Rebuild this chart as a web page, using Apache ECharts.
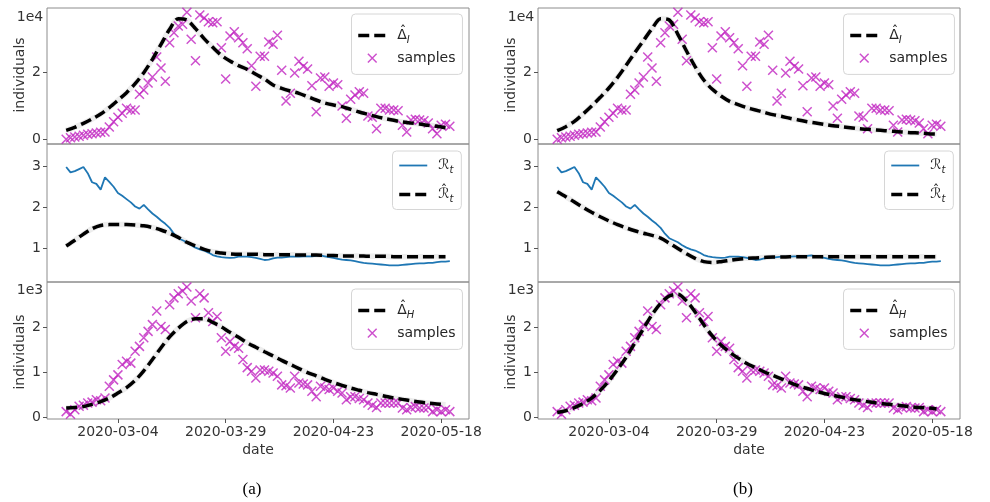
<!DOCTYPE html>
<html>
<head>
<meta charset="utf-8">
<script src="https://cdn.jsdelivr.net/npm/echarts@6/dist/echarts.min.js"></script>
<style>
  html, body { margin: 0; padding: 0; background: #fff; }
  #chart { width: 990px; height: 502px; }
</style>
</head>
<body>
<div id="chart"></div>
<script>
// days are counted from the first sample
const startDate = '2020-02-21'
const tickDates = ['2020-03-04', '2020-03-29', '2020-04-23', '2020-05-18']
const curveStep = 2

// daily samples (shared by both panels)
const samplesI = [0, 500, 700, 900, 1200, 1500, 1700, 1900, 2100, 2200,
  3700, 5300, 6600, 7800, 9300, 8800, 8800, 13500, 14800, 16900,
  18700, 24700, 21400, 17400, 29000, 32000, 34000, 34500, 38100, 30000,
  23600, 37300, 36400, 35300, 35000, 35300, 27500, 18100, 31000, 32300,
  30500, 29000, 27200, 22100, 15900, 24900, 24900, 29200, 28500, 31200,
  20700, 11500, 13800, 19900, 23400, 21900, 21100, 16100, 8300, 18400,
  18700, 15900, 16900, 16400, 10000, 6300, 12000, 13300, 14300, 13800,
  7000, 6600, 3200, 9300, 9300, 8800, 8800, 8600, 4200, 2200,
  5800, 6000, 5800, 5600, 4900, 3200, 1700, 4200, 4500, 3900]

const samplesH = [130, 70, 170, 250, 270, 320, 340, 390, 370, 430,
  690, 830, 940, 1170, 1240, 1200, 1460, 1570, 1760, 1900,
  2050, 2350, 2010, 1940, 2490, 2640, 2730, 2790, 2880, 2570,
  2200, 2730, 2640, 2310, 2120, 2230, 1760, 1460, 1680, 1570,
  1530, 1280, 1100, 1020, 870, 1050, 1050, 1020, 980, 910,
  720, 700, 650, 910, 760, 740, 720, 580, 460, 690,
  650, 620, 650, 580, 540, 390, 460, 460, 420, 390,
  320, 270, 220, 320, 320, 320, 320, 320, 210, 170,
  220, 240, 210, 210, 220, 130, 170, 130, 170, 130]

const rt = [2.98, 2.85, 2.88, 2.93, 2.98, 2.83, 2.61, 2.57, 2.43, 2.73,
  2.62, 2.50, 2.35, 2.28, 2.20, 2.12, 2.02, 1.97, 2.06, 1.95,
  1.85, 1.77, 1.68, 1.60, 1.50, 1.36, 1.25, 1.20, 1.15, 1.08,
  1.02, 0.98, 0.95, 0.90, 0.84, 0.81, 0.79, 0.78, 0.77, 0.78,
  0.80, 0.80, 0.80, 0.79, 0.77, 0.75, 0.72, 0.73, 0.76, 0.78,
  0.78, 0.79, 0.80, 0.80, 0.80, 0.81, 0.81, 0.81, 0.82, 0.83,
  0.81, 0.79, 0.77, 0.75, 0.73, 0.72, 0.71, 0.69, 0.67, 0.65,
  0.64, 0.63, 0.62, 0.61, 0.60, 0.59, 0.59, 0.59, 0.60, 0.61,
  0.62, 0.63, 0.64, 0.64, 0.65, 0.65, 0.67, 0.68, 0.68, 0.69]

// model curves, panel (a)
const modelIa = [2700, 3600, 4800, 6100, 7600, 9500, 11700, 14000, 16700, 20000,
  24000, 28500, 33000, 36200, 35800, 33200, 30200, 27600, 25200, 23500,
  22100, 21000, 19500, 18100, 16300, 15300, 14500, 13800, 12800, 11800,
  10900, 10300, 9800, 9000, 8200, 7500, 6800, 6200, 5700, 5200,
  4900, 4600, 4200, 3900, 3500]
const rtHatA = [1.06, 1.20, 1.35, 1.48, 1.56, 1.58, 1.58, 1.58, 1.57, 1.55,
  1.51, 1.45, 1.37, 1.27, 1.15, 1.06, 0.98, 0.92, 0.89, 0.87,
  0.86, 0.86, 0.86, 0.85, 0.85, 0.85, 0.85, 0.84, 0.84, 0.84,
  0.83, 0.83, 0.82, 0.82, 0.82, 0.81, 0.81, 0.81, 0.80, 0.80,
  0.80, 0.80, 0.80, 0.80, 0.80]
const modelHa = [210, 220, 240, 290, 350, 430, 540, 660, 820, 1030,
  1280, 1540, 1780, 1970, 2120, 2180, 2180, 2100, 2000, 1880,
  1770, 1650, 1550, 1450, 1360, 1260, 1170, 1080, 990, 920,
  840, 770, 710, 650, 600, 550, 510, 470, 430, 400,
  370, 340, 320, 300, 280]

// model curves, panel (b)
const modelIb = [2600, 3800, 5400, 7600, 10000, 12600, 15400, 18600, 22200, 26000,
  29600, 33200, 36200, 35800, 31500, 26500, 21800, 17800, 15000, 13000,
  11400, 10400, 9500, 8800, 8100, 7400, 6900, 6300, 5800, 5300,
  4900, 4500, 4100, 3800, 3500, 3200, 3000, 2800, 2600, 2400,
  2200, 2000, 1900, 1700, 1600]
const rtHatB = [2.38, 2.26, 2.13, 2.00, 1.88, 1.77, 1.67, 1.58, 1.50, 1.43,
  1.37, 1.32, 1.25, 1.13, 1.00, 0.87, 0.76, 0.68, 0.66, 0.68,
  0.71, 0.74, 0.76, 0.77, 0.78, 0.79, 0.79, 0.80, 0.80, 0.80,
  0.80, 0.80, 0.80, 0.80, 0.80, 0.80, 0.80, 0.80, 0.80, 0.80,
  0.80, 0.80, 0.80, 0.80, 0.80]
const modelHb = [110, 150, 220, 310, 430, 600, 810, 1060, 1330, 1640,
  1960, 2270, 2520, 2680, 2720, 2570, 2330, 2050, 1800, 1600,
  1440, 1310, 1190, 1100, 1010, 930, 850, 770, 700, 640,
  580, 530, 490, 450, 410, 380, 350, 320, 300, 280,
  260, 240, 220, 210, 190]

const MAGENTA = '#c024c0'
const BLUE = '#1f77b4'
const FONT = 'DejaVu Sans'
const TEXT = '#333'

const DAY = 864e5
const t0 = Date.parse(startDate)
const tickPos = tickDates.map(d => (Date.parse(d) - t0) / DAY)
const dayToDate = v => new Date(t0 + Math.round(v) * DAY).toISOString().slice(0, 10)

const daily = vals => vals.map((v, i) => [i, v])
const stepped = vals => vals.map((v, i) => [i * curveStep, v])

const colLeft = [47, 538]
const rowTop = [8, 144, 282]
const rowHeight = [136, 138, 137]
const yRange = [[-1400, 39400], [0.185, 3.54], [-33, 2990]]
const yTicks = [[0, 20000], [1, 2, 3], [0, 1000, 2000]]
const yFmt = [v => String(v / 1e4), v => String(v), v => String(v / 1e3)]

const crossPath = 'path://M0,0L10,10M10,0L0,10'
const crossIcon = 'path://M-3,-3M0,0L10,10M10,0L0,10M13,13'

// hat is a zero-width token drawn over the next glyph
const legendLabels = {
  DeltaI: '{sp| }{h|\u2009ˆ}{m|Δ}{s|I}',
  DeltaH: '{sp| }{h|\u2009ˆ}{m|Δ}{s|H}',
  Rt: '{sp| }{m|ℛ}{s|t}',
  RtHat: '{sp| }{h|\u2009ˆ}{m|ℛ}{s|t}',
  samples: '{sp| }{m|samples}'
}

const grids = [], xAxes = [], yAxes = [], series = [], legends = []

const panels = [
  { I: modelIa, R: rtHatA, H: modelHa },
  { I: modelIb, R: rtHatB, H: modelHb }
]

function dashed (name, vals, idx) {
  series.push({
    name: 'halo' + name, type: 'line', xAxisIndex: idx, yAxisIndex: idx,
    data: stepped(vals), showSymbol: false, symbol: 'none', smooth: 0.3, silent: true, z: 2,
    lineStyle: { color: 'rgba(0,0,0,0.07)', width: 5.5 }
  })
  series.push({
    name, type: 'line', xAxisIndex: idx, yAxisIndex: idx,
    data: stepped(vals), showSymbol: false, symbol: 'none', smooth: 0.3, z: 4,
    itemStyle: { color: '#000' },
    lineStyle: { color: '#000', width: 3.5, type: [11, 5] }
  })
}

function scatter (vals, idx) {
  series.push({
    name: 'samples', type: 'scatter', xAxisIndex: idx, yAxisIndex: idx,
    data: daily(vals), symbol: crossPath, symbolSize: 9, z: 3,
    itemStyle: { color: 'transparent', borderColor: MAGENTA, borderWidth: 1.5 }
  })
}

// line entries: hide the marker ECharts puts in the middle of the line icon
const lineLegendItem = (name, width) => ({ name, lineStyle: { width }, itemStyle: { opacity: 0 } })
const samplesLegendItem = {
  name: 'samples', icon: crossIcon,
  itemStyle: { color: 'transparent', borderColor: MAGENTA, borderWidth: 1.5 }
}

function legend (left, top, data, gap, pad) {
  legends.push({
    left, top, orient: 'vertical', data,
    itemWidth: 28, itemHeight: 14, itemGap: gap, padding: pad,
    backgroundColor: 'rgba(255,255,255,0.85)', borderColor: '#d6d6d6', borderWidth: 1, borderRadius: 4,
    selectedMode: false,
    formatter: name => legendLabels[name],
    textStyle: {
      color: '#262626', fontFamily: FONT, fontSize: 13.5,
      rich: {
        sp: { width: 6, lineHeight: 20 },
        h: { width: 0, fontSize: 13, fontFamily: FONT, color: '#262626', verticalAlign: 'top', height: 12, lineHeight: 12 },
        m: { fontSize: 14, fontFamily: FONT, color: '#262626', lineHeight: 20 },
        s: { fontSize: 10, fontFamily: FONT, fontStyle: 'italic', color: '#262626', verticalAlign: 'bottom', lineHeight: 14 }
      }
    }
  })
}

panels.forEach((p, c) => {
  for (let r = 0; r < 3; r++) {
    const idx = c * 3 + r
    grids.push({
      left: colLeft[c], top: rowTop[r], width: 422, height: rowHeight[r],
      show: true, borderColor: '#8c8c8c', borderWidth: 1, backgroundColor: 'transparent'
    })
    xAxes.push({
      gridIndex: idx, type: 'value', min: -4.45, max: 93.45,
      axisLine: { show: false, onZero: false }, splitLine: { show: false },
      axisTick: { show: r === 2, customValues: tickPos, length: 4, lineStyle: { color: '#555' } },
      axisLabel: {
        show: r === 2, customValues: tickPos, formatter: dayToDate,
        margin: 6, fontSize: 14, color: TEXT, fontFamily: FONT
      }
    })
    yAxes.push({
      gridIndex: idx, type: 'value', min: yRange[r][0], max: yRange[r][1],
      axisLine: { show: false, onZero: false }, splitLine: { show: false },
      axisTick: { show: true, customValues: yTicks[r], length: 4, lineStyle: { color: '#555' } },
      axisLabel: {
        customValues: yTicks[r], formatter: yFmt[r],
        margin: 6, fontSize: 14, color: TEXT, fontFamily: FONT
      }
    })
  }
  const base = c * 3
  scatter(samplesI, base)
  dashed('DeltaI', p.I, base)

  series.push({
    name: 'Rt', type: 'line', xAxisIndex: base + 1, yAxisIndex: base + 1,
    data: daily(rt), showSymbol: false, symbol: 'none', z: 3,
    itemStyle: { color: BLUE },
    lineStyle: { color: BLUE, width: 1.8 }
  })
  dashed('RtHat', p.R, base + 1)

  scatter(samplesH, base + 2)
  dashed('DeltaH', p.H, base + 2)

  const lx = c === 0 ? 351.5 : 843.5
  legend(lx, 14, [lineLegendItem('DeltaI', 3.5), samplesLegendItem], 4.9, [11, 7, 8.5, 5])
  legend(lx + 41, 151, [lineLegendItem('Rt', 1.8), lineLegendItem('RtHat', 3.5)], 8.5, [7.5, 8, 5, 5])
  legend(lx, 289, [lineLegendItem('DeltaH', 3.5), samplesLegendItem], 4.9, [11, 7, 8.5, 5])
})

const txt = (x, y, text, extra) => ({
  type: 'text', x, y,
  style: Object.assign({ text, fill: TEXT, font: '14px "DejaVu Sans"', align: 'center', verticalAlign: 'middle' }, extra || {})
})

const graphic = []
;[0, 491].forEach((dx, c) => {
  graphic.push(txt(30 + dx, 17, '1e4'))
  graphic.push(txt(30 + dx, 290, '1e3'))
  graphic.push(Object.assign(txt(20 + dx, 75, 'individuals'), { rotation: Math.PI / 2 }))
  graphic.push(Object.assign(txt(20 + dx, 352, 'individuals'), { rotation: Math.PI / 2 }))
  graphic.push(txt(258 + dx, 450, 'date'))
  graphic.push(txt(252 + dx, 490, c === 0 ? '(a)' : '(b)', { fill: '#000', font: '17px "Liberation Serif"' }))
})

const chart = echarts.init(document.getElementById('chart'))
chart.setOption({
  animation: false,
  backgroundColor: '#fff',
  grid: grids,
  xAxis: xAxes,
  yAxis: yAxes,
  legend: legends,
  graphic,
  series
})
</script>
</body>
</html>
